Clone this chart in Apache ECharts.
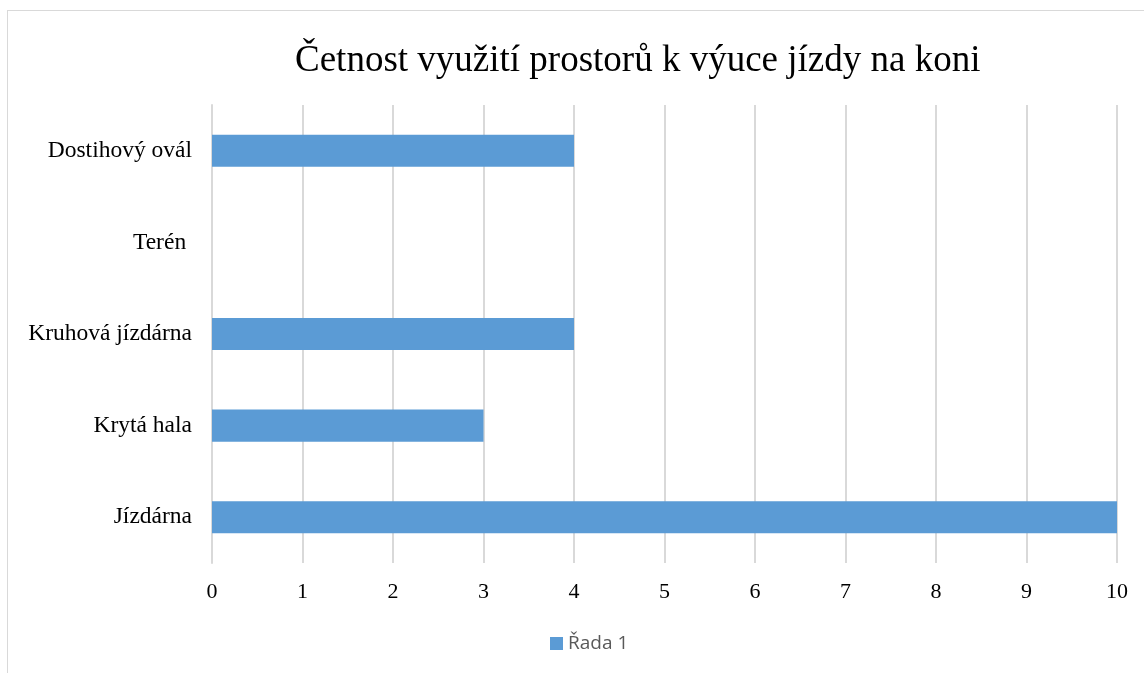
<!DOCTYPE html>
<html>
<head>
<meta charset="utf-8">
<script src="https://cdn.jsdelivr.net/npm/echarts@6/dist/echarts.min.js"></script>
<style>
  html, body { margin: 0; padding: 0; background: #fff; }
  #frame {
    position: absolute; left: 7px; top: 10px;
    width: 1150px; height: 680px;
    border: 1px solid #d9d9d9; box-sizing: border-box;
  }
  #chart { position: absolute; left: 0; top: 0; width: 1144px; height: 673px; }
</style>
</head>
<body>
<div id="frame"></div>
<div id="chart"></div>
<script>
// data
var categories = ['Jízdárna', 'Krytá hala', 'Kruhová jízdárna', 'Terén ', 'Dostihový ovál'];
var seriesName = 'Řada 1';
var values = [10, 3, 4, 0, 4];

var chart = echarts.init(document.getElementById('chart'));
var serif = '"Liberation Serif", "DejaVu Serif", serif';

chart.setOption({
  animation: false,
  title: {
    text: 'Četnost využití prostorů k výuce jízdy na koni',
    left: 290,
    top: 38,
    textStyle: { fontFamily: serif, fontSize: 37, fontWeight: 'normal', color: '#000' }
  },
  legend: {
    data: [seriesName],
    bottom: 15,
    left: 545,
    itemWidth: 13,
    itemHeight: 13,
    itemGap: 6,
    icon: 'rect',
    textStyle: { fontFamily: '"Open Sans", "Liberation Sans", sans-serif', fontSize: 19, color: '#595959' }
  },
  grid: { left: 212, right: 27, top: 105, bottom: 110 },
  xAxis: {
    type: 'value',
    min: 0,
    max: 10,
    interval: 1,
    axisLine: { show: false },
    axisTick: { show: false },
    splitLine: { show: true, lineStyle: { color: '#d9d9d9', width: 2 } },
    axisLabel: { fontFamily: serif, fontSize: 22, color: '#000', margin: 18 }
  },
  yAxis: {
    type: 'category',
    data: categories,
    axisLine: { show: true, lineStyle: { color: '#d9d9d9', width: 2 } },
    axisTick: { show: false },
    axisLabel: { fontFamily: serif, fontSize: 23.5, color: '#000', margin: 20 }
  },
  series: [{
    name: seriesName,
    type: 'bar',
    data: values,
    barWidth: '35%',
    itemStyle: { color: '#5b9bd5' }
  }]
});
</script>
</body>
</html>
